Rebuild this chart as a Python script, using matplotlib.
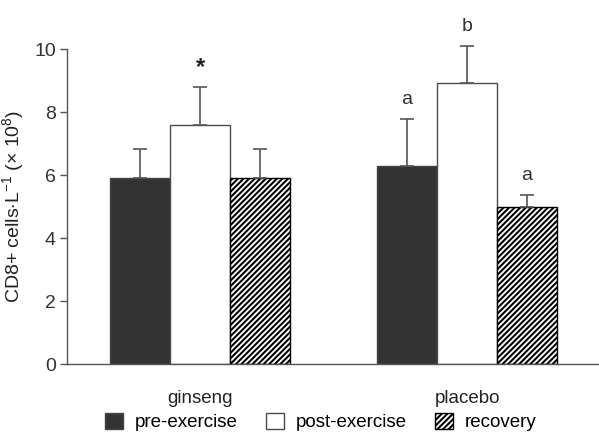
import numpy as np
import matplotlib.pyplot as plt
from matplotlib.patches import Patch

plt.rcParams['font.family'] = ['Liberation Sans', 'DejaVu Sans']
plt.rcParams['mathtext.fontset'] = 'custom'
plt.rcParams['mathtext.rm'] = 'Liberation Sans'
plt.rcParams['mathtext.it'] = 'Liberation Sans:italic'
plt.rcParams['hatch.linewidth'] = 1.5

groups = ['ginseng', 'placebo']
phases = ['pre-exercise', 'post-exercise', 'recovery']
means = {
    'pre-exercise': [5.90, 6.31],
    'post-exercise': [7.60, 8.92],
    'recovery': [5.90, 4.98],
}
errs = {
    'pre-exercise': [0.94, 1.47],
    'post-exercise': [1.20, 1.19],
    'recovery': [0.93, 0.40],
}
marks = {
    'pre-exercise': ['', 'a'],
    'post-exercise': ['*', 'b'],
    'recovery': ['', 'a'],
}

face = {'pre-exercise': '#333333', 'post-exercise': 'white', 'recovery': 'white'}
hatch = {'pre-exercise': None, 'post-exercise': None, 'recovery': '//////'}
edge = {'pre-exercise': '#444444', 'post-exercise': '#4a4a4a', 'recovery': '#000000'}

fig = plt.figure(figsize=(5.99, 4.36), dpi=100)
ax = fig.add_axes([0.112, 0.165, 0.888, 0.7215])

x = np.arange(len(groups))
w = 0.2247
for i, ph in enumerate(phases):
    pos = x + (i - 1) * w
    ax.bar(pos, means[ph], w, color=face[ph], edgecolor=edge[ph], linewidth=1.0,
           hatch=hatch[ph], zorder=2)
    ax.errorbar(pos, means[ph], yerr=[np.zeros(len(groups)), errs[ph]], fmt='none',
                ecolor='#555555', elinewidth=1.2, capsize=5, capthick=1.2,
                clip_on=False, zorder=3)
    for p, m, e, t in zip(pos, means[ph], errs[ph], marks[ph]):
        if not t:
            continue
        if t == '*':
            ax.text(p, m + e + 0.25, t, ha='center', va='bottom', fontsize=17,
                    fontweight='bold', color='#222222')
        else:
            ax.text(p, m + e + 0.35, t, ha='center', va='bottom', fontsize=14,
                    color='#333333')

ax.set_xlim(-0.498, 1.494)
ax.set_ylim(0, 10)
ax.set_yticks([0, 2, 4, 6, 8, 10])
ax.set_xticks(x)
ax.set_xticklabels(groups)
ax.tick_params(axis='x', length=0, pad=19, labelsize=13.5, colors='#222222')
ax.tick_params(axis='y', length=5, width=1, color='#555555', labelsize=14,
               labelcolor='#333333', pad=3)
for s in ['top', 'right']:
    ax.spines[s].set_visible(False)
for s in ['left', 'bottom']:
    ax.spines[s].set_color('#555555')
    ax.spines[s].set_linewidth(1.0)

ax.set_ylabel(r'CD8+ cells$\cdot$L$^{-1}$ ($\times$ 10$^{8}$)', fontsize=14,
              color='#222222', labelpad=6)

handles = [Patch(facecolor=face[ph], edgecolor=edge[ph], hatch=hatch[ph], linewidth=1.0)
           for ph in phases]
fig.legend(handles, phases, loc='center', bbox_to_anchor=(0.535, 0.032), ncol=3,
           frameon=False, fontsize=13.5, handlelength=1.0, handleheight=1.0,
           handletextpad=0.6, columnspacing=1.5)

fig.savefig('out.png', dpi=100)
